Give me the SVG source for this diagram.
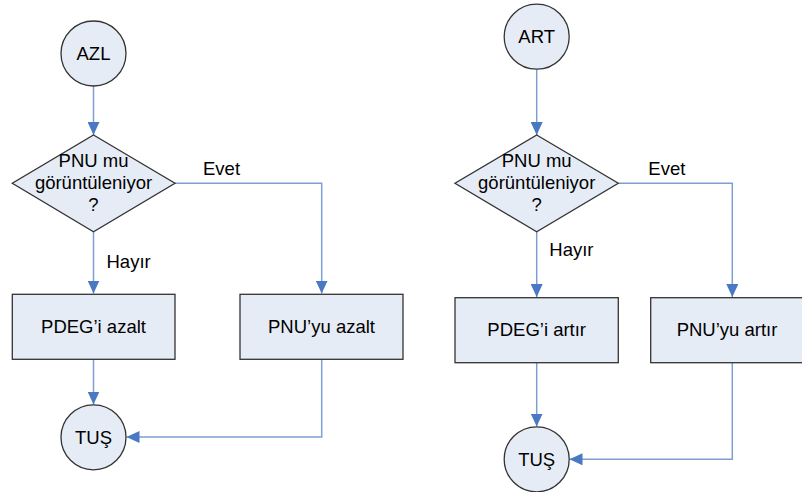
<svg xmlns="http://www.w3.org/2000/svg" width="802" height="492" viewBox="0 0 802 492">
<defs>
<marker id="arr" markerWidth="13" markerHeight="12" refX="13" refY="6" orient="auto" markerUnits="userSpaceOnUse">
<path d="M0,0 L13,6 L0,12 Z" fill="#4A78C2"/>
</marker>
<style>
.shape{fill:#E6ECF6;stroke:#333333;stroke-width:1.3}
.conn{fill:none;stroke:#7E9ED4;stroke-width:1.5;marker-end:url(#arr)}
.t{font-family:"Liberation Sans",Arial,sans-serif;font-size:18.5px;fill:#000}
.c{text-anchor:middle}
</style>
</defs>
<rect width="802" height="492" fill="#fff"/>
<g id="connectors">
<path class="conn" d="M93.5,86 V135"/>
<path class="conn" d="M175,183.3 H321.7 V293.5"/>
<path class="conn" d="M93.5,231.7 V293.5"/>
<path class="conn" d="M93.5,359.3 V404.5"/>
<path class="conn" d="M321.7,359.3 V437 H126.5"/>
<path class="conn" d="M536.7,69.5 V135"/>
<path class="conn" d="M618.3,183.3 H732.3 V297"/>
<path class="conn" d="M536.7,231.7 V297"/>
<path class="conn" d="M536.7,362.7 V426.5"/>
<path class="conn" d="M732.3,362.7 V459.3 H569.5"/>
</g>
<g id="labels">
<text class="t" x="203" y="175">Evet</text>
<text class="t" x="106.5" y="267.5">Hayır</text>
<text class="t" x="648.3" y="175">Evet</text>
<text class="t" x="549.3" y="256">Hayır</text>
</g>
<g id="azl">
<circle class="shape" cx="93.5" cy="53.5" r="32.5"/>
<text class="t c" x="93.5" y="59.5">AZL</text>
</g>
<g id="decision1">
<polygon class="shape" points="93.5,135 175,183.3 93.5,231.7 12.3,183.3"/>
<text class="t c" x="93.5" y="166.7">PNU mu</text>
<text class="t c" x="93.5" y="189">görüntüleniyor</text>
<text class="t c" x="93.5" y="210.5">?</text>
</g>
<g id="pdeg_azalt">
<rect class="shape" x="12.3" y="294.3" width="162.7" height="65"/>
<text class="t c" x="93.5" y="332.7">PDEG’i azalt</text>
</g>
<g id="pnu_azalt">
<rect class="shape" x="240" y="294.3" width="163" height="65"/>
<text class="t c" x="321.5" y="332.7">PNU’yu azalt</text>
</g>
<g id="tus1">
<circle class="shape" cx="93.5" cy="437.3" r="32.5"/>
<text class="t c" x="93.5" y="443.8">TUŞ</text>
</g>
<g id="art">
<circle class="shape" cx="536.7" cy="36.7" r="32.5"/>
<text class="t c" x="536.7" y="43.2">ART</text>
</g>
<g id="decision2">
<polygon class="shape" points="536.7,135 618.3,183.3 536.7,231.7 455,183.3"/>
<text class="t c" x="536.7" y="166.7">PNU mu</text>
<text class="t c" x="536.7" y="189">görüntüleniyor</text>
<text class="t c" x="536.7" y="210.5">?</text>
</g>
<g id="pdeg_artir">
<rect class="shape" x="455" y="297.7" width="163.3" height="65"/>
<text class="t c" x="536.7" y="336">PDEG’i artır</text>
</g>
<g id="pnu_artir">
<rect class="shape" x="650.7" y="297.7" width="152" height="65"/>
<text class="t c" x="727" y="336">PNU’yu artır</text>
</g>
<g id="tus2">
<circle class="shape" cx="536.7" cy="459.3" r="32.5"/>
<text class="t c" x="536.7" y="465.8">TUŞ</text>
</g>
</svg>
